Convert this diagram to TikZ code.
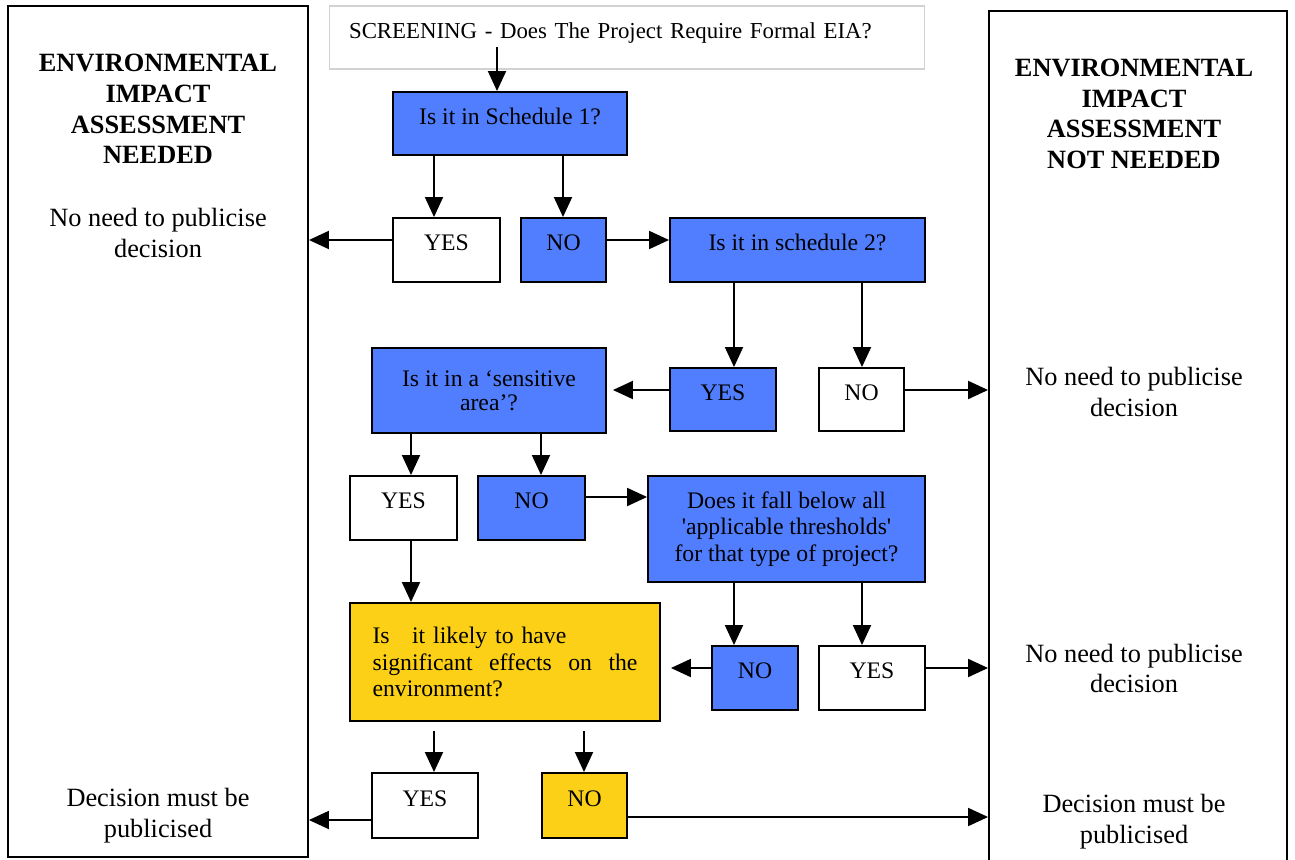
\documentclass[tikz,border=0pt]{standalone}
\usepackage{fontspec}
\setmainfont{Liberation Serif}
\usetikzlibrary{arrows.meta,positioning,calc}
\definecolor{qblue}{RGB}{80,126,255}
\definecolor{qyellow}{RGB}{251,208,22}

\begin{document}
\fontsize{15}{17.5}\selectfont
\begin{tikzpicture}[x=0.02cm,y=-0.02cm,
	box/.style={draw, line width=1.1pt, minimum height=1.28cm, inner sep=2pt, align=center, font={\fontsize{13.5}{15}\selectfont}},
	qbox/.style={box, fill=qblue},
	ybox/.style={box, fill=qyellow},
	wbox/.style={box, fill=white},
	lift/.style={text height=10pt, text depth=9pt},
	side/.style={draw, line width=1.1pt},
	arr/.style={line width=1.1pt, -{Triangle[length=0.4cm,width=0.36cm]}}]
	\useasboundingbox (0,0) rectangle (1295,859);
	% outcome columns
	\node[side, minimum width=6cm, minimum height=17.02cm] (needed) at (158,431.5) {};
	\node[side, minimum width=5.96cm, minimum height=17.2cm] (notneeded) at (1138,441) {};
	\node[font=\bfseries, align=center] (needtitle) at (158,109) {ENVIRONMENTAL\\IMPACT\\ASSESSMENT\\NEEDED};
	\node[font=\bfseries, align=center] (nottitle) at (1134,114) {ENVIRONMENTAL\\IMPACT\\ASSESSMENT\\NOT NEEDED};
	\node[align=center] (needpub1) at (158,233) {No need to publicise\\decision};
	\node[align=center] (needpub2) at (158,816) {Decision must be\\publicised};
	\node[align=center] (notpub1) at (1134,392) {No need to publicise\\decision};
	\node[align=center] (notpub2) at (1134,668.5) {No need to publicise\\decision};
	\node[align=center] (notpub3) at (1134,822) {Decision must be\\publicised};
	% screening questions
	\node[draw=gray!35, line width=0.6pt, minimum height=1.26cm, text width=11.12cm, inner xsep=0.4cm, lift, align=left, font={\fontsize{13}{15}\selectfont}] (scr) at (627,37.5) {\mbox{SCREENING - Does The Project Require Formal EIA?}};
	\coordinate (scrout) at (497,47);
	\node[qbox, lift, minimum width=4.68cm, minimum height=1.26cm] (s1) at (510,123.5) {Is it in Schedule 1?};
	\node[wbox, lift, minimum width=2.14cm] (yes1) at (446.5,250) {YES};
	\node[qbox, lift, minimum width=1.70cm] (no1) at (563.5,250) {NO};
	\node[qbox, lift, minimum width=5.10cm] (s2) at (797.5,250) {Is it in schedule 2?};
	\node[qbox, lift, minimum width=2.12cm, minimum height=1.26cm] (yes2) at (723,399.5) {YES};
	\node[wbox, lift, minimum width=1.70cm, minimum height=1.26cm] (no2) at (861.5,399.5) {NO};
	\node[qbox, minimum width=4.68cm, minimum height=1.70cm, font={\fontsize{13.5}{13.6}\selectfont}] (sens) at (489,390.5) {Is it in a ‘sensitive\\area’?};
	\node[wbox, lift, minimum width=2.14cm] (yes3) at (403.5,508) {YES};
	\node[qbox, lift, minimum width=2.14cm] (no3) at (531.5,508) {NO};
	\node[qbox, minimum width=5.54cm, minimum height=2.12cm] (thr) at (786.5,529) {Does it fall below all\\\textquotesingle applicable thresholds\textquotesingle\\for that type of project?};
	\node[qbox, lift, minimum width=1.72cm] (no4) at (755,678) {NO};
	\node[wbox, lift, minimum width=2.12cm] (yes4) at (872,678) {YES};
	\node[ybox, minimum width=6.20cm, minimum height=2.36cm, text width=5.3cm, align=left] (likely) at (505,662) {Is\hspace{0.45cm}it likely to have\\significant\hfill effects\hfill on\hfill the\\environment?\par\vspace{0.24cm}};
	\node[wbox, lift, minimum width=2.12cm, minimum height=1.30cm] (yes5) at (425,805.5) {YES};
	\node[ybox, lift, minimum width=1.70cm, minimum height=1.30cm] (no5) at (584.5,805.5) {NO};
	% connectors
	\draw[arr] (scrout) -- (s1.north -| scrout);
	\draw[arr] (s1.south -| 434,0) -- (yes1.north -| 434,0);
	\draw[arr] (s1.south -| 563,0) -- (no1.north -| 563,0);
	\draw[arr] (yes1.west |- 0,240) -- (needed.east |- 0,240);
	\draw[arr] (no1.east |- 0,240) -- (s2.west |- 0,240);
	\draw[arr] (s2.south -| 734,0) -- (yes2.north -| 734,0);
	\draw[arr] (s2.south -| 862,0) -- (no2.north -| 862,0);
	\draw[arr] (no2.east |- 0,390) -- (notneeded.west |- 0,390);
	\draw[arr] (yes2.west |- 0,390) -- ($(sens.east |- 0,390)+(6,0)$);
	\draw[arr] (sens.south -| 411,0) -- (yes3.north -| 411,0);
	\draw[arr] (sens.south -| 541,0) -- (no3.north -| 541,0);
	\draw[arr] (no3.east |- 0,497) -- (thr.west |- 0,497);
	\draw[arr] (yes3.south -| 411,0) -- (likely.north -| 411,0);
	\draw[arr] (thr.south -| 734,0) -- (no4.north -| 734,0);
	\draw[arr] (thr.south -| 862,0) -- (yes4.north -| 862,0);
	\draw[arr] (no4.west |- 0,668) -- ($(likely.east |- 0,668)+(10,0)$);
	\draw[arr] (yes4.east |- 0,668) -- (notneeded.west |- 0,668);
	\draw[arr] ($(likely.south -| 434,0)+(0,9)$) -- (yes5.north -| 434,0);
	\draw[arr] ($(likely.south -| 584,0)+(0,9)$) -- (no5.north -| 584,0);
	\draw[arr] (yes5.west |- 0,820) -- (needed.east |- 0,820);
	\draw[arr] (no5.east |- 0,817) -- (notneeded.west |- 0,817);
\end{tikzpicture}
\end{document}
